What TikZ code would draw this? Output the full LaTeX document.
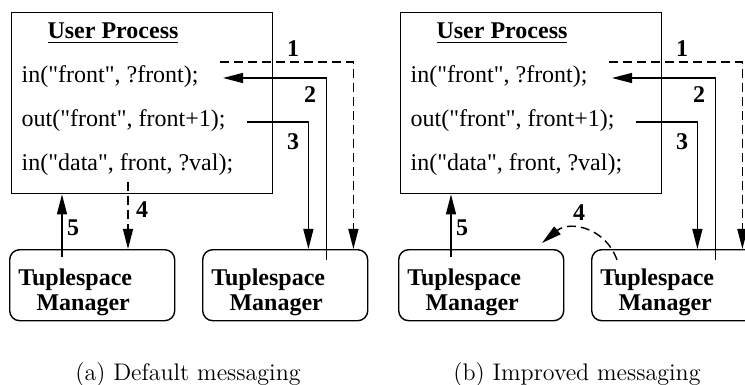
\documentclass[tikz,border=0pt]{standalone}
\usepackage{fontspec}
\newfontfamily\tms{Liberation Serif}
\usetikzlibrary{arrows.meta,positioning}

\begin{document}
\begin{tikzpicture}[x=1pt,y=-1pt,>={Triangle[length=10pt,width=5pt]},line width=0.7pt,
  proc/.style={draw,rectangle,minimum width=130.5pt,minimum height=90.5pt,anchor=north west},
  tsm/.style={draw,rectangle,rounded corners=5pt,minimum width=82.5pt,minimum height=35.5pt,anchor=north west},
  code/.style={anchor=base west,inner sep=0pt,font=\tms\fontsize{12}{14}\selectfont},
  head/.style={anchor=base,inner sep=0pt,font=\tms\bfseries\fontsize{12}{14}\selectfont},
  tsmtext/.style={align=center,inner sep=0pt,font=\tms\bfseries\fontsize{12}{12.5}\selectfont},
  num/.style={inner sep=0pt,font=\tms\bfseries\fontsize{12}{14}\selectfont},
  figcap/.style={anchor=base,inner sep=0pt,font=\fontsize{12}{14}\selectfont},
  msg/.style={->},
  msgd/.style={->,dash pattern=on 4.5pt off 2.5pt}]
  \useasboundingbox (0,0) rectangle (372.5,192.5);
  \clip (0,0) rectangle (372.5,192.5);

  % (a) default messaging
  \node[proc] (upa) at (5.5,6) {};
  \node[head] (tita) at (56.5,19.5) {\underline{User Process}};
  \node[code] (ina)   at (10.5,41.5) {in("front", ?front);};
  \node[code] (outa)  at (10.5,63.5) {out("front", front+1);};
  \node[code] (dataa) at (10.5,85)   {in("data", front, ?val);};
  \node[tsm] (tsa1) at (4.5,124.5) {};
  \node[tsm] (tsa2) at (101,124.5) {};
  \node[tsmtext] (tla1) at ([xshift=-8.5pt,yshift=-3.75pt]tsa1.center) {Tuplespace\\\hspace*{8pt}Manager};
  \node[tsmtext] (tla2) at ([xshift=-8.5pt,yshift=-3.75pt]tsa2.center) {Tuplespace\\\hspace*{8pt}Manager};

  \coordinate (s1a) at (110,31);
  \coordinate (s2a) at ([xshift=-21pt,yshift=-5.5pt]tsa2.north east);
  \coordinate (e2a) at (111.5,39);
  \coordinate (s3a) at (123.5,61);
  \coordinate (s4a) at (64,91);
  \coordinate (s5a) at ([xshift=26.5pt,yshift=-4pt]tsa1.north west);
  \draw[msgd] (s1a) -| ([xshift=-7.5pt]tsa2.north east);
  \draw[msg] (s2a) |- (e2a);
  \draw[msg] (s3a) -| ([xshift=-30pt]tsa2.north east);
  \draw[msgd] (s4a) -- (s4a |- tsa1.north);
  \draw[msg] (s5a) -- (s5a |- upa.south);

  \node[num] (n1a) at (146.5,24.5) {1};
  \node[num] (n2a) at (155,47.5) {2};
  \node[num] (n3a) at (146.5,71) {3};
  \node[num] (n4a) at (71,105) {4};
  \node[num] (n5a) at (36.5,114) {5};

  \node[figcap] (capa) at (94,190) {(a) Default messaging};

  % (b) improved messaging
  \node[proc] (upb) at (200,6) {};
  \node[head] (titb) at (251,19.5) {\underline{User Process}};
  \node[code] (inb)   at (205,41.5) {in("front", ?front);};
  \node[code] (outb)  at (205,63.5) {out("front", front+1);};
  \node[code] (datab) at (205,85)   {in("data", front, ?val);};
  \node[tsm] (tsb1) at (199,124.5) {};
  \node[tsm] (tsb2) at (295.5,124.5) {};
  \node[tsmtext] (tlb1) at ([xshift=-8.5pt,yshift=-3.75pt]tsb1.center) {Tuplespace\\\hspace*{8pt}Manager};
  \node[tsmtext] (tlb2) at ([xshift=-8.5pt,yshift=-3.75pt]tsb2.center) {Tuplespace\\\hspace*{8pt}Manager};

  \coordinate (s1b) at (304.5,31);
  \coordinate (s2b) at ([xshift=-21pt,yshift=-5.5pt]tsb2.north east);
  \coordinate (e2b) at (306,39);
  \coordinate (s3b) at (318,61);
  \coordinate (s4b) at ([xshift=13pt,yshift=-5.5pt]tsb2.north west);
  \coordinate (e4b) at (271,121.5);
  \coordinate (s5b) at ([xshift=26.5pt,yshift=-4pt]tsb1.north west);
  \draw[msgd] (s1b) -| ([xshift=-7.5pt]tsb2.north east);
  \draw[msg] (s2b) |- (e2b);
  \draw[msg] (s3b) -| ([xshift=-30pt]tsb2.north east);
  \draw[msgd] (s4b) .. controls (303,114) and (285,110) .. (e4b);
  \draw[msg] (s5b) -- (s5b |- upb.south);

  \node[num] (n1b) at (341,24.5) {1};
  \node[num] (n2b) at (349.5,47.5) {2};
  \node[num] (n3b) at (341,71) {3};
  \node[num] (n4b) at (289.5,106.5) {4};
  \node[num] (n5b) at (231,114) {5};

  \node[figcap] (capb) at (288.5,190) {(b) Improved messaging};
\end{tikzpicture}
\end{document}
